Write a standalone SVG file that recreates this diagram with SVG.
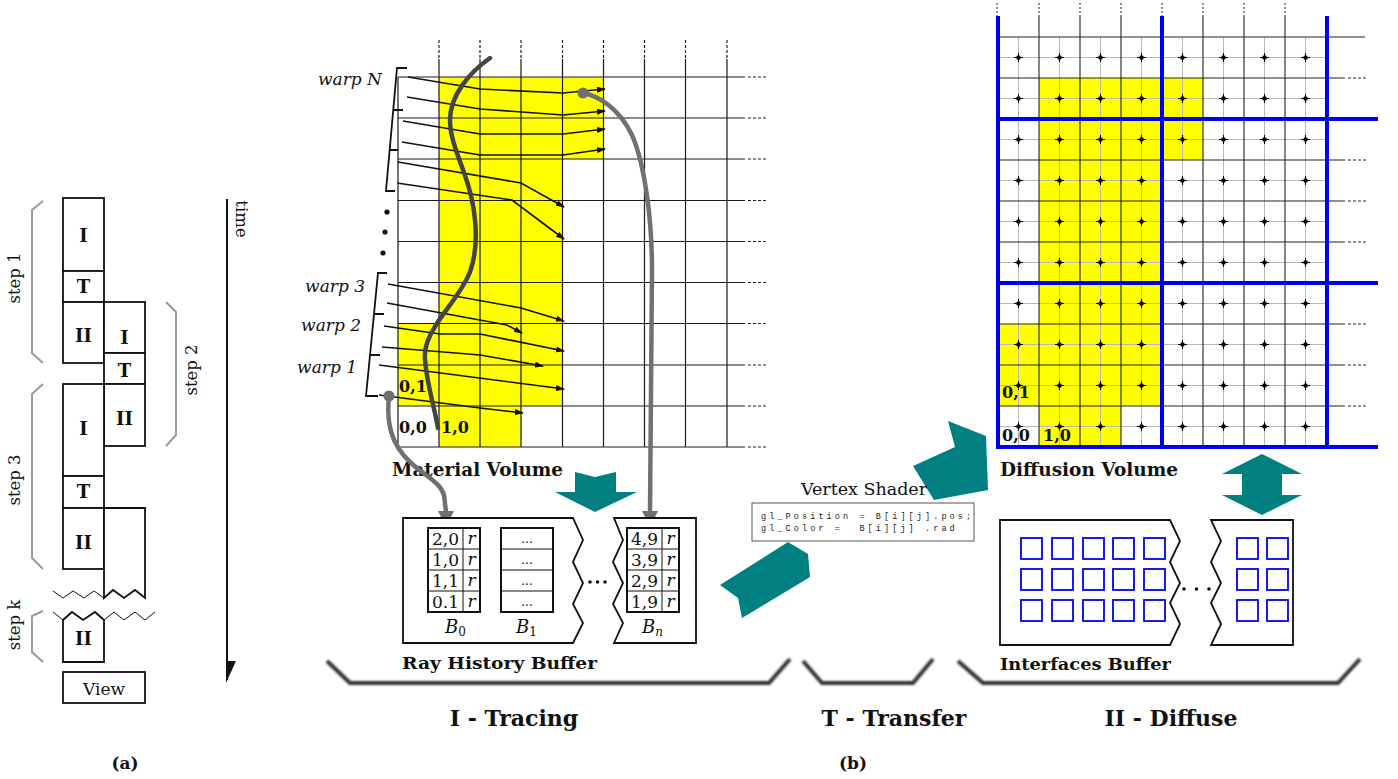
<svg xmlns="http://www.w3.org/2000/svg" width="1398" height="779" viewBox="0 0 1398 779">
<style>
.box{fill:#fff;stroke:#111;stroke-width:1.8}
.bl{font-family:"DejaVu Serif",serif;font-weight:bold;fill:#111;text-anchor:middle}
.st{text-anchor:start}
.rg{font-family:"DejaVu Serif",serif;fill:#111}
.it{font-family:"DejaVu Serif",serif;font-style:italic;fill:#111}
.gb{fill:none;stroke:#9a9a9a;stroke-width:2}
.grid{stroke:#1a1a1a;stroke-width:1.2;fill:none}
.dash{stroke:#1a1a1a;stroke-width:1.2;stroke-dasharray:3 2;fill:none}
.ray{fill:none;stroke:#111;stroke-width:1.6;marker-end:url(#ah)}
.yel{fill:#ffff00}
.teal{fill:#008080}
.blue{stroke:#0000f0;stroke-width:4;fill:none}
.sq{fill:none;stroke:#0000f0;stroke-width:1.8}
.brace{fill:none;stroke:#333;stroke-width:4;filter:url(#blur)}
.code{font-family:"Liberation Mono",monospace;font-size:8.5px;letter-spacing:3.1px;fill:#222;white-space:pre}
</style>
<defs>
<marker id="ah" markerUnits="userSpaceOnUse" markerWidth="9" markerHeight="6" refX="8" refY="3" orient="auto">
<path d="M0,0 L9,3 L0,6 z" fill="#111"/>
</marker>
<filter id="blur" x="-5%" y="-50%" width="110%" height="200%"><feGaussianBlur stdDeviation="1.1"/></filter>
<pattern id="dv" x="998" y="37" width="41" height="41" patternUnits="userSpaceOnUse">
<path d="M20.5,0V41M0,20.5H41" stroke="#b8b8b8" stroke-width="1"/>
<path d="M16,20.5H25M20.5,16V25" stroke="#000" stroke-width="1"/>
<circle cx="20.5" cy="20.5" r="2.3" fill="#000"/>
</pattern>
</defs>
<rect width="1398" height="779" fill="#fff"/>

<!-- (a) timeline -->
<g id="timeline">
<rect class="box" x="63" y="198" width="41" height="73"/>
<rect class="box" x="63" y="271" width="41" height="31"/>
<rect class="box" x="63" y="302" width="41" height="61"/>
<rect class="box" x="104" y="302" width="41" height="51"/>
<rect class="box" x="104" y="353" width="41" height="31"/>
<rect class="box" x="104" y="384" width="41" height="62"/>
<rect class="box" x="63" y="384" width="41" height="92"/>
<rect class="box" x="63" y="476" width="41" height="32"/>
<rect class="box" x="63" y="508" width="41" height="61"/>
<path class="box" d="M104,598 L104,508 L145,508 L145,598 L135,590 L124,598 L113,590 Z"/>
<path d="M53,591 L63,598 L73,591 L84,598 L94,591 L104,598" fill="none" stroke="#111" stroke-width="1"/>
<path class="box" d="M63,620 L63,662 L104,662 L104,620 L95,612 L83,620 L72,612 Z"/>
<path d="M53,612 L63,620 M104,620 L114,612 L124,620 L135,612 L145,620 L155,612" fill="none" stroke="#111" stroke-width="1"/>
<rect class="box" x="63" y="672" width="82" height="31"/>
<text class="bl" x="83.5" y="242" font-size="18">I</text>
<text class="bl" x="83.5" y="293" font-size="18">T</text>
<text class="bl" x="83.5" y="342" font-size="18">II</text>
<text class="bl" x="124.5" y="344" font-size="18">I</text>
<text class="bl" x="124.5" y="377" font-size="18">T</text>
<text class="bl" x="124.5" y="425" font-size="18">II</text>
<text class="bl" x="83.5" y="435" font-size="18">I</text>
<text class="bl" x="83.5" y="498" font-size="18">T</text>
<text class="bl" x="83.5" y="549" font-size="18">II</text>
<text class="bl" x="83.5" y="645" font-size="18">II</text>
<text class="rg" x="104" y="695" font-size="17" text-anchor="middle">View</text>
<path class="gb" d="M43,201 L32,210 L32,353 L43,363"/>
<path class="gb" d="M166,302 L176,312 L176,435 L166,446"/>
<path class="gb" d="M43,384 L32,394 L32,558 L43,569"/>
<path class="gb" d="M43,611 L32,616 L32,652 L43,662"/>
<text class="rg" font-size="16.5" text-anchor="middle" transform="translate(20,278) rotate(-90)">step 1</text>
<text class="rg" font-size="16.5" text-anchor="middle" transform="translate(197,370) rotate(-90)">step 2</text>
<text class="rg" font-size="16.5" text-anchor="middle" transform="translate(20,480) rotate(-90)">step 3</text>
<text class="rg" font-size="16.5" text-anchor="middle" transform="translate(20,625) rotate(-90)">step k</text>
<path d="M227,199 V680" stroke="#111" stroke-width="2"/>
<path d="M226,661 L236,661 L226,683 Z" fill="#111"/>
<text class="rg" font-size="16.5" text-anchor="middle" transform="translate(236,219) rotate(90)">time</text>
<text class="bl" x="125" y="769" font-size="17">(a)</text>
</g>

<!-- Material Volume -->
<g id="material-volume">
<rect class="yel" x="439" y="77" width="164.5" height="82"/>
<rect class="yel" x="439" y="159" width="123.5" height="165"/>
<rect class="yel" x="398" y="323.5" width="164.5" height="82.5"/>
<rect class="yel" x="439" y="406" width="82" height="41"/>
<path class="grid" d="M398,77V447 M439,59V447 M480,59V447 M521,59V447 M562.5,59V447 M603.5,59V447 M644.5,59V447 M685.5,59V447 M727,59V447"/>
<path class="dash" stroke-dasharray="2 2" d="M439,40V59 M480,40V59 M521,40V59 M562.5,40V59 M603.5,40V59 M644.5,40V59 M685.5,40V59 M727,40V59"/>
<path class="grid" d="M398,77H745 M398,118H745 M398,159H745 M398,200.5H745 M398,241.5H745 M398,282.5H745 M398,323.5H745 M398,365H745 M398,406H745 M398,447H745"/>
<path class="dash" d="M748,77H766 M748,118H766 M748,159H766 M748,200.5H766 M748,241.5H766 M748,282.5H766 M748,323.5H766 M748,365H766 M748,406H766 M748,447H766"/>
<text class="bl" x="413" y="392" font-size="16">0,1</text>
<text class="bl" x="413" y="433" font-size="16">0,0</text>
<text class="bl" x="455" y="433" font-size="16">1,0</text>
<text class="bl st" x="392" y="476" font-size="18" textLength="171" lengthAdjust="spacingAndGlyphs">Material Volume</text>
</g>

<g id="warps">
<polyline points="407,68 397,68 386,191 395,191" fill="none" stroke="#111" stroke-width="1.8"/>
<path d="M393,110H403 M390,150H398" stroke="#111" stroke-width="1.8"/>
<polyline points="387,273 378,273 366,396 378,396" fill="none" stroke="#111" stroke-width="1.8"/>
<path d="M375,314H384 M371,355H380" stroke="#111" stroke-width="1.8"/>
<circle cx="387" cy="212" r="2.6" fill="#111"/>
<circle cx="385" cy="232" r="2.6" fill="#111"/>
<circle cx="383" cy="253" r="2.6" fill="#111"/>
<text class="it" x="382" y="85" font-size="17" text-anchor="end">warp  N</text>
<text class="it" x="365" y="292" font-size="17" text-anchor="end">warp  3</text>
<text class="it" x="361" y="331" font-size="17" text-anchor="end">warp  2</text>
<text class="it" x="357" y="373" font-size="17" text-anchor="end">warp  1</text>
</g>

<g id="rays">
<polyline class="ray" points="408,77 480,89 563,93 605,89"/>
<polyline class="ray" points="407,97 480,109 563,115 605,111"/>
<polyline class="ray" points="403,121 480,134 563,134 605,129"/>
<polyline class="ray" points="402,142 480,155 563,155 605,149"/>
<polyline class="ray" points="398,162 521,183 564,207"/>
<polyline class="ray" points="397,183 512,200 564,239"/>
<polyline class="ray" points="388,284 521,308 564,321"/>
<polyline class="ray" points="387,303 507,325 522,333"/>
<polyline class="ray" points="384,326 440,334 480,334 564,351"/>
<polyline class="ray" points="382,347 480,355 543,366"/>
<polyline class="ray" points="379,365 564,389"/>
<polyline class="ray" points="379,395 480,408 523,413"/>
</g>

<g id="connectors">
<path d="M490,58 C470,72 450,95 450,120 C450,145 466,170 472,200 C478,230 476,255 470,272 C462,292 445,310 436,325 C426,340 424,350 425,360 C427,385 434,405 438,428" fill="none" stroke="#444" stroke-width="4.5" stroke-linecap="round"/>
<path d="M583,93 C600,96 620,110 632,135 C645,165 652,220 652,270 L650,512" fill="none" stroke="#707070" stroke-width="4.5"/>
<circle cx="583" cy="93" r="5.5" fill="#707070"/>
<path d="M642,511 L658,511 L650,527 Z" fill="#707070"/>
<path d="M389,396 C386,425 392,445 410,462 C425,476 440,482 444,495 L446,512" fill="none" stroke="#707070" stroke-width="4.5"/>
<circle cx="389" cy="396" r="5.5" fill="#707070"/>
<path d="M438,511 L454,511 L446,527 Z" fill="#707070"/>
<polygon class="teal" points="575,472 595,477 616,472 616,492 637,492 595,512 555,492 575,492"/>
<polygon class="teal" points="720,585 788,542 808,554 810,577 742,618 738,598"/>
<polygon class="teal" points="913,466 955,447 948,421 986,436 988,490 934,500"/>
<polygon class="teal" points="1262,454 1302,474 1282,474 1282,495 1302,495 1262,515 1222,495 1242,495 1242,474 1222,474"/>
</g>

<!-- Ray history buffer -->
<g id="ray-history-buffer">
<path class="box" stroke-width="1.5" d="M403,518 H573 L583,540 L573,562 L583,583 L573,604 L583,623 L573,643 H403 Z"/>
<path class="box" stroke-width="1.5" d="M614,518 H696 V643 H614 L623,623 L613,604 L623,583 L613,562 L623,540 Z"/>
<circle cx="590" cy="582" r="1.8" fill="#111"/>
<circle cx="597.5" cy="582" r="1.8" fill="#111"/>
<circle cx="605" cy="582" r="1.8" fill="#111"/>
<g fill="none" stroke="#111">
<rect x="428" y="528" width="52" height="84" stroke-width="2"/>
<path d="M463,528V612 M428,549H480 M428,570H480 M428,591H480" stroke-width="1"/>
<rect x="501" y="528" width="52" height="84" stroke-width="2"/>
<path d="M501,549H553 M501,570H553 M501,591H553" stroke-width="1"/>
<rect x="627" y="528" width="52" height="84" stroke-width="2"/>
<path d="M662,528V612 M627,549H679 M627,570H679 M627,591H679" stroke-width="1"/>
</g>
<g class="rg" font-size="17" text-anchor="middle">
<text x="445.5" y="545">2,0</text><text x="445.5" y="566">1,0</text><text x="445.5" y="587">1,1</text><text x="445.5" y="608">0.1</text>
<text x="644.5" y="545">4,9</text><text x="644.5" y="566">3,9</text><text x="644.5" y="587">2,9</text><text x="644.5" y="608">1,9</text>
<text x="527" y="543" font-size="12">...</text><text x="527" y="564" font-size="12">...</text><text x="527" y="585" font-size="12">...</text><text x="527" y="606" font-size="12">...</text>
</g>
<g class="it" font-size="17" text-anchor="middle">
<text x="471.5" y="544">r</text><text x="471.5" y="565">r</text><text x="471.5" y="586">r</text><text x="471.5" y="607">r</text>
<text x="670.5" y="544">r</text><text x="670.5" y="565">r</text><text x="670.5" y="586">r</text><text x="670.5" y="607">r</text>
</g>
<text class="it" x="445" y="633" font-size="18">B<tspan font-style="normal" font-size="12" dy="3">0</tspan></text>
<text class="it" x="516" y="633" font-size="18">B<tspan font-style="normal" font-size="12" dy="3">1</tspan></text>
<text class="it" x="642" y="633" font-size="18">B<tspan font-size="12" dy="3">n</tspan></text>
<text class="bl st" x="402" y="669" font-size="17" textLength="195" lengthAdjust="spacingAndGlyphs">Ray History Buffer</text>
</g>

<!-- Vertex shader -->
<g id="vertex-shader">
<text class="rg" x="864" y="495" font-size="17.5" text-anchor="middle">Vertex Shader</text>
<rect x="752" y="503" width="222" height="38" fill="#fff" stroke="#555" stroke-width="1"/>
<text class="code" x="761" y="519" xml:space="preserve">gl_Position = B[i][j].pos;</text>
<text class="code" x="761" y="531" xml:space="preserve">gl_Color =  B[i][j] .rad</text>
</g>

<!-- Diffusion volume -->
<g id="diffusion-volume">
<rect class="yel" x="1039" y="78" width="164" height="82"/>
<rect class="yel" x="1039" y="160" width="123" height="164"/>
<rect class="yel" x="998" y="324" width="164" height="82"/>
<rect class="yel" x="1039" y="406" width="82" height="41"/>
<rect x="998" y="37" width="328" height="410" fill="url(#dv)"/>
<path d="M1039,16V447 M1080,16V447 M1121,16V447 M1203,16V447 M1244,16V447 M1285,16V447" stroke="#222" stroke-width="1.1"/>
<path d="M997,3V16 M1039,3V16 M1080,3V16 M1121,3V16 M1162,3V16 M1203,3V16 M1244,3V16 M1285,3V16" stroke="#222" stroke-width="1" stroke-dasharray="2 2"/>
<path d="M998,37H1365 M998,78H1345 M998,160H1345 M998,201H1345 M998,242H1345 M998,324H1345 M998,365H1345 M998,406H1345" stroke="#222" stroke-width="1.1"/>
<path d="M1348,78H1366 M1348,160H1366 M1348,201H1366 M1348,242H1366 M1348,324H1366 M1348,365H1366 M1348,406H1366" stroke="#222" stroke-width="1" stroke-dasharray="3 2"/>
<path class="blue" d="M998,16V449 M1162,16V449 M1327,16V449 M996,119H1378 M996,283H1378 M996,447H1378"/>
<text class="bl" x="1016" y="398" font-size="16">0,1</text>
<text class="bl" x="1016" y="441" font-size="16">0,0</text>
<text class="bl" x="1057" y="441" font-size="16">1,0</text>
<text class="bl st" x="1000" y="476" font-size="18" textLength="178" lengthAdjust="spacingAndGlyphs">Diffusion Volume</text>
</g>

<!-- Interfaces buffer -->
<g id="interfaces-buffer">
<path class="box" stroke-width="1.5" d="M1000,520 H1170 L1180,541 L1170,562 L1180,583 L1170,603 L1180,624 L1170,645 H1000 Z"/>
<path class="box" stroke-width="1.5" d="M1211,520 H1293 V645 H1211 L1221,624 L1211,603 L1221,583 L1211,562 L1221,541 Z"/>
<circle cx="1184" cy="589" r="1.8" fill="#111"/>
<circle cx="1196.5" cy="589" r="1.8" fill="#111"/>
<circle cx="1209" cy="589" r="1.8" fill="#111"/>
<g class="sq">
<rect x="1021" y="538" width="21" height="21"/><rect x="1052" y="538" width="21" height="21"/><rect x="1083" y="538" width="21" height="21"/><rect x="1113" y="538" width="21" height="21"/><rect x="1144" y="538" width="21" height="21"/>
<rect x="1021" y="569" width="21" height="21"/><rect x="1052" y="569" width="21" height="21"/><rect x="1083" y="569" width="21" height="21"/><rect x="1113" y="569" width="21" height="21"/><rect x="1144" y="569" width="21" height="21"/>
<rect x="1021" y="600" width="21" height="21"/><rect x="1052" y="600" width="21" height="21"/><rect x="1083" y="600" width="21" height="21"/><rect x="1113" y="600" width="21" height="21"/><rect x="1144" y="600" width="21" height="21"/>
<rect x="1237" y="538" width="21" height="21"/><rect x="1267" y="538" width="21" height="21"/>
<rect x="1237" y="569" width="21" height="21"/><rect x="1267" y="569" width="21" height="21"/>
<rect x="1237" y="600" width="21" height="21"/><rect x="1267" y="600" width="21" height="21"/>
</g>
<text class="bl st" x="1000" y="670" font-size="17" textLength="171" lengthAdjust="spacingAndGlyphs">Interfaces Buffer</text>
</g>

<!-- phases -->
<g id="phases">
<path class="brace" d="M327,661 L350,683 L769,683 L790,659"/>
<path class="brace" d="M803,661 L822,683 L913,683 L933,659"/>
<path class="brace" d="M958,661 L983,683 L1338,683 L1360,659"/>
<text class="bl" x="514" y="726" font-size="22">I - Tracing</text>
<text class="bl" x="894" y="726" font-size="22">T - Transfer</text>
<text class="bl" x="1171" y="726" font-size="22">II - Diffuse</text>
<text class="bl" x="853" y="769" font-size="17">(b)</text>
</g>
</svg>
